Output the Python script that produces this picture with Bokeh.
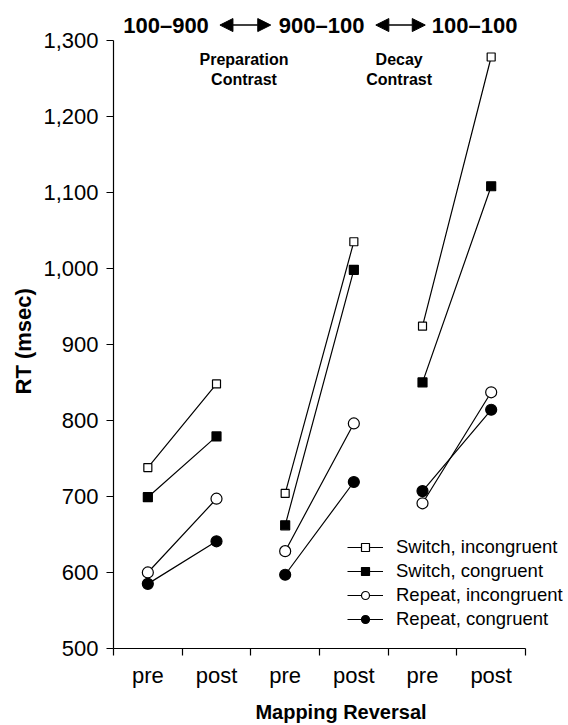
import numpy as np
from bokeh.plotting import figure
from bokeh.models import (FixedTicker, NumeralTickFormatter, Legend, LegendItem,
                          Label, Arrow, NormalHead, Range1d, Title)
from bokeh.embed import file_html
from bokeh.resources import INLINE

# ---- data ----
categories = ["pre", "post", "pre", "post", "pre", "post"]
groups = ["100\u2013900", "900\u2013100", "100\u2013100"]
contrasts = [["Preparation", "Contrast"], ["Decay", "Contrast"]]
switch_incongruent = [738, 848, 704, 1035, 924, 1278]
switch_congruent = [699, 779, 662, 998, 850, 1108]
repeat_incongruent = [600, 697, 628, 796, 691, 837]
repeat_congruent = [585, 641, 597, 719, 707, 814]
y_ticks = [500, 600, 700, 800, 900, 1000, 1100, 1200, 1300]

FONT = "Liberation Sans"

n = len(categories)
x_pos = [i + 0.5 for i in range(n)]
bounds = list(range(n + 1))

def with_gaps(vals):
    xs, ys = [], []
    for g in range(0, n, 2):
        xs += [x_pos[g], x_pos[g + 1], np.nan]
        ys += [vals[g], vals[g + 1], np.nan]
    return xs[:-1], ys[:-1]

# frame spans to the top/right canvas edges so header & legend are not clipped;
# axes are bounded to the data region
p = figure(width=568, height=725, x_range=Range1d(0, 6.626), y_range=Range1d(500, 1352.3),
           output_backend="svg", toolbar_location=None,
           min_border_left=113, min_border_right=0, min_border_top=0, min_border_bottom=73)
p.grid.visible = False
p.outline_line_color = None
p.background_fill_color = "white"

series = [
    ("Switch, incongruent", switch_incongruent, "square", 8, "white"),
    ("Switch, congruent", switch_congruent, "square", 9, "black"),
    ("Repeat, incongruent", repeat_incongruent, "circle", 11, "white"),
    ("Repeat, congruent", repeat_congruent, "circle", 11, "black"),
]
items = []
for label, vals, marker, size, fill in series:
    lx, ly = with_gaps(vals)
    lr = p.line(lx, ly, line_color="black", line_width=1.2)
    sr = p.scatter(x_pos, vals, marker=marker, size=size, fill_color=fill,
                   line_color="black", line_width=1.2)
    items.append(LegendItem(label=label, renderers=[lr, sr]))

legend = Legend(items=items, location=(234, 18), padding=0, margin=0,
                border_line_alpha=0, background_fill_alpha=0,
                glyph_width=36, glyph_height=20, label_height=20, spacing=2,
                label_standoff=13, label_text_font=FONT, label_text_font_size="18.5px",
                label_text_color="black")
p.add_layout(legend, "center")

# axes
p.xaxis.ticker = FixedTicker(ticks=x_pos, minor_ticks=bounds)
p.xaxis.bounds = (0, 6)
p.xaxis.major_label_overrides = {x: c for x, c in zip(x_pos, categories)}
p.xaxis.major_tick_out = 0
p.xaxis.major_tick_in = 0
p.xaxis.minor_tick_out = 7
p.xaxis.minor_tick_in = 0
p.xaxis.minor_tick_line_color = "black"
p.xaxis.minor_tick_line_width = 1.2
p.xaxis.major_label_standoff = 7
p.xaxis.axis_label = "Mapping Reversal"
p.xaxis.axis_label_standoff = 10

p.yaxis.ticker = FixedTicker(ticks=y_ticks)
p.yaxis.bounds = (500, 1300)
p.yaxis.formatter = NumeralTickFormatter(format="0,0")
p.yaxis.major_tick_out = 7
p.yaxis.major_tick_in = 0
p.yaxis.minor_tick_out = 0
p.yaxis.minor_tick_in = 0
p.yaxis.major_label_standoff = 8

for ax in (p.xaxis[0], p.yaxis[0]):
    ax.axis_line_color = "black"
    ax.axis_line_width = 1.2
    ax.major_tick_line_color = "black"
    ax.major_tick_line_width = 1.2
    ax.major_label_text_font = FONT
    ax.major_label_text_font_size = "22px"
    ax.major_label_text_color = "black"
    ax.axis_label_text_font = FONT
    ax.axis_label_text_font_style = "bold"
    ax.axis_label_text_color = "black"
p.xaxis.axis_label_text_font_size = "20px"

# y axis title, positioned along the bounded axis
p.add_layout(Title(text="RT (msec)", align="left", offset=254, standoff=10,
                   text_font=FONT, text_font_size="22px", text_font_style="bold",
                   text_color="black"), "left")

# header annotations
hdr_y = 1320
for gx, g in zip([0.765, 3.03, 5.26], groups):
    p.add_layout(Label(x=gx, y=hdr_y, text=g, text_align="center", text_baseline="middle",
                       text_font=FONT, text_font_size="22px", text_font_style="bold",
                       text_color="black"))
for xs, xe in [(1.55, 2.29), (3.82, 4.54)]:
    p.add_layout(Arrow(x_start=xs, y_start=hdr_y, x_end=xe, y_end=hdr_y,
                       line_color="black", line_width=1.5,
                       start=NormalHead(size=13, fill_color="black", line_color="black"),
                       end=NormalHead(size=13, fill_color="black", line_color="black")))
for cx, lines in zip([1.90, 4.16], contrasts):
    for ly, t in zip([1275, 1248], lines):
        p.add_layout(Label(x=cx, y=ly, text=t, text_align="center", text_baseline="middle",
                           text_font=FONT, text_font_size="16px", text_font_style="bold",
                           text_color="black"))

open("out.html", "w").write(file_html(p, INLINE))
